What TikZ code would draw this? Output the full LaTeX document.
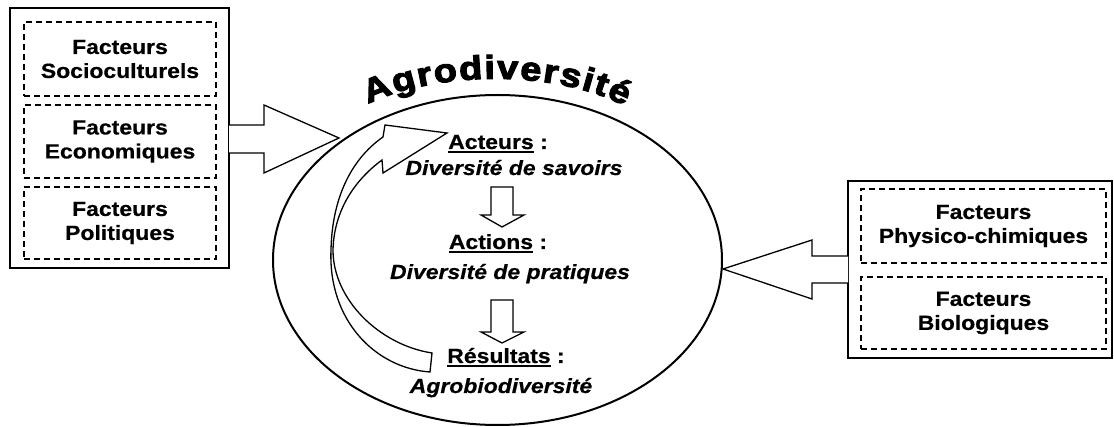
\documentclass[tikz,border=0pt]{standalone}
\usepackage{fontspec}
\setmainfont{Liberation Sans}[FakeStretch=1.12,FakeBold=0.6]
\newfontfamily\heavyfont{Liberation Sans}[FakeStretch=1.15,FakeBold=3.5]
\usetikzlibrary{shapes.geometric,decorations.text}
\newcommand\myul[1]{\setbox0\hbox{#1}\rlap{\rule[-4pt]{\wd0}{1.8pt}}\box0\relax}
\begin{document}
\begin{tikzpicture}[x=1pt,y=-1pt,
  txt/.style={font=\bfseries\fontsize{20.5}{24}\selectfont, align=center},
  itx/.style={font=\bfseries\itshape\fontsize{20.5}{24}\selectfont, anchor=base, inner sep=0pt},
  hdr/.style={font=\bfseries\fontsize{20.5}{24}\selectfont, anchor=base, inner sep=0pt},
  dbox/.style={draw, dash pattern=on 6pt off 4pt, line width=1.5pt, txt, inner sep=0pt},
  obox/.style={draw, line width=2pt, inner sep=0pt},
  blk/.style={draw, line width=1.3pt, fill=white, line join=miter}]
\useasboundingbox (0,0) rectangle (1114,427);

% left group
\node[obox, minimum width=219, minimum height=260] (LO) at (119.5,138) {};
\node[dbox, minimum width=192, minimum height=74] (L1) at (120,59) {Facteurs\\Socioculturels};
\node[dbox, minimum width=192, minimum height=73] (L2) at (120,141.5) {Facteurs\\Economiques};
\node[dbox, minimum width=192, minimum height=72] (L3) at (120,223) {Facteurs\\Politiques};

% right group
\node[obox, minimum width=264, minimum height=177] (RO) at (980,269.5) {};
\node[dbox, minimum width=245, minimum height=74] (R1) at (983.5,226) {Facteurs\\Physico-chimiques};
\node[dbox, minimum width=245, minimum height=72] (R2) at (983.5,313) {Facteurs\\Biologiques};

% ellipse
\node[draw, ellipse, line width=2pt, minimum width=449, minimum height=330, inner sep=0pt] (E) at (497.5,260) {};

% title along arc
\path[decorate, decoration={text along path,
   text={|\heavyfont\bfseries\fontsize{33}{33}\selectfont|Agrodiversité},
   text align={fit to path}}]
   (368,104) .. controls (440,70) and (555,70) .. (625,106);

% block arrows from factor boxes
\draw[blk] (229,125) -- (264,125) -- (264,105) -- (339,138) -- (264,173) -- (264,153) -- (229,153);
\draw[blk] (848,256) -- (812,256) -- (812,240) -- (723,269) -- (812,299) -- (812,283) -- (848,283);

% inner texts
\node[hdr] (t1) at (498,149) {\myul{Acteurs} :};
\node[itx] (t2) at (514,175) {Diversité de savoirs};
\node[hdr] (t3) at (498,249) {\myul{Actions} :};
\node[itx] (t4) at (510,279) {Diversité de pratiques};
\node[hdr] (t5) at (506,363) {\myul{Résultats} :};
\node[itx] (t6) at (501,393) {Agrobiodiversité};

% down arrows
\draw[blk] (491,187) -- (513,187) -- (513,215) -- (524,215) -- (502,227) -- (481,215) -- (491,215) -- cycle;
\draw[blk] (491,300) -- (513,300) -- (513,332) -- (524,332) -- (502,343) -- (481,332) -- (491,332) -- cycle;

% curved feedback arrow
\draw[blk, fill=none] (432,353) .. controls (380,345) and (333,300) .. (333,250)
   .. controls (334,210) and (355,180) .. (382,160)
   -- (383,173) -- (447,133) -- (385,125) -- (383,137)
   .. controls (350,160) and (332,200) .. (331,250)
   .. controls (328,320) and (375,368) .. (430,372) -- cycle;
\end{tikzpicture}
\end{document}
